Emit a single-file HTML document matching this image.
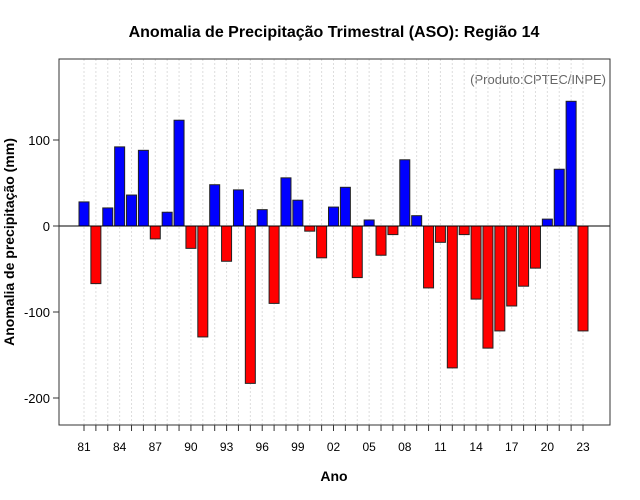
<!DOCTYPE html>
<html><head><meta charset="utf-8"><style>body{margin:0;background:#fff}svg{display:block;font-family:"Liberation Sans",sans-serif}</style></head>
<body>
<svg id="c" width="640" height="500">
<text x="334" y="37" text-anchor="middle" font-size="16" font-weight="bold">Anomalia de Precipitação Trimestral (ASO): Região 14</text>
<text x="606" y="84" text-anchor="end" font-size="13" fill="#666">(Produto:CPTEC/INPE)</text>
<text x="334" y="481" text-anchor="middle" font-size="14" font-weight="bold">Ano</text>
<text transform="translate(14,242) rotate(-90)" text-anchor="middle" font-size="14" font-weight="bold">Anomalia de precipitação (mm)</text>
<g id="grid"></g><g id="bars"></g><g id="axes"></g>
<rect x="59" y="59" width="551" height="366" fill="none" stroke="#333"/>
</svg>
<script>
const years=[1981,1982,1983,1984,1985,1986,1987,1988,1989,1990,1991,1992,1993,1994,1995,1996,1997,1998,1999,2000,2001,2002,2003,2004,2005,2006,2007,2008,2009,2010,2011,2012,2013,2014,2015,2016,2017,2018,2019,2020,2021,2022,2023];
const values=[28,-67,21,92,36,88,-15,16,123,-26,-129,48,-41,42,-183,19,-90,56,30,-6,-37,22,45,-60,7,-34,-10,77,12,-72,-19,-165,-10,-85,-142,-122,-93,-70,-49,8,66,145,-122];
const yTicks=[-200,-100,0,100];
const xTickYears=[1981,1984,1987,1990,1993,1996,1999,2002,2005,2008,2011,2014,2017,2020,2023];
const NS="http://www.w3.org/2000/svg";
const xS=y=>84+(y-1981)*(583-84)/42;
const yS=v=>226-v*0.86;
function mk(t,a,p){const e=document.createElementNS(NS,t);for(const k in a)e.setAttribute(k,a[k]);document.getElementById(p).appendChild(e);return e;}
years.forEach(y=>{const g=mk('line',{x1:xS(y),x2:xS(y),y1:59,y2:425,stroke:'#ddd','stroke-dasharray':'2,2'},'grid');

});
years.forEach((y,i)=>{const v=values[i];const r=mk('rect',{x:xS(y)-5,y:Math.min(yS(v),yS(0)),width:10,height:Math.abs(yS(v)-yS(0)),fill:v>=0?'#0000ff':'#ff0000',stroke:'#222','stroke-width':1},'bars');

});
const z=mk('line',{x1:59,x2:610,y1:yS(0),y2:yS(0),stroke:'#000'},'axes');


yTicks.forEach(v=>{mk('line',{x1:53,x2:59,y1:yS(v),y2:yS(v),stroke:'#333'},'axes');
const t=mk('text',{x:50,y:yS(v)+5,'text-anchor':'end','font-size':13},'axes');t.textContent=v;

});
years.forEach(y=>{mk('line',{x1:xS(y),x2:xS(y),y1:425,y2:431,stroke:'#333'},'axes');});
xTickYears.forEach(y=>{const t=mk('text',{x:xS(y),y:451,'text-anchor':'middle','font-size':12},'axes');t.textContent=String(y).slice(2);

});
</script>
</body></html>
